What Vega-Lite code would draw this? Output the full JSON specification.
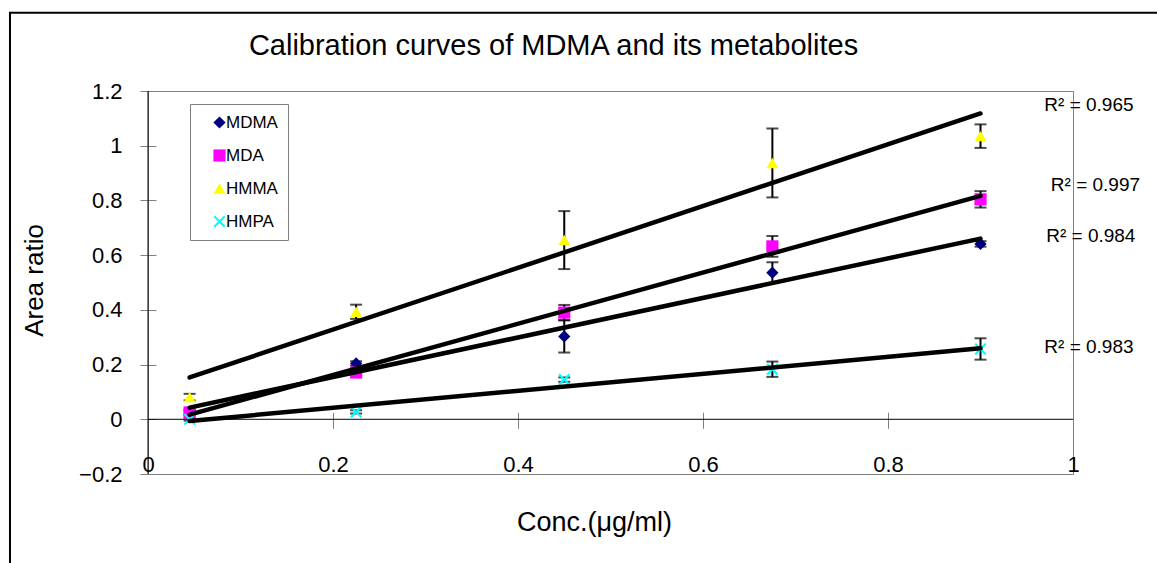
{
  "$schema": "https://vega.github.io/schema/vega-lite/v6.json",
  "width": 925,
  "height": 383,
  "autosize": {"type": "none"},
  "padding": {"left": 148, "top": 91, "right": 84, "bottom": 89},
  "background": "white",
  "title": {
    "text": "Calibration curves of MDMA and its metabolites",
    "font": "Liberation Sans",
    "fontSize": 29,
    "fontWeight": "normal",
    "color": "black",
    "frame": "group",
    "anchor": "middle",
    "dx": -57,
    "baseline": "alphabetic",
    "offset": -72
  },
  "config": {
    "view": {"stroke": "#808080", "strokeWidth": 1},
    "axis": {
      "labelFont": "Liberation Sans",
      "labelFontSize": 22,
      "labelColor": "black",
      "titleFont": "Liberation Sans",
      "titleFontWeight": "normal",
      "titleColor": "black",
      "grid": false,
      "domain": false,
      "tickColor": "#808080",
      "tickSize": 16,
      "format": "~g"
    }
  },
  "datasets": {
    "points": [
      {"series": "MDMA", "conc": 0.045, "ratio": 0.025, "err": 0.008},
      {"series": "MDMA", "conc": 0.225, "ratio": 0.204, "err": 0.008},
      {"series": "MDMA", "conc": 0.45, "ratio": 0.303, "err": 0.059},
      {"series": "MDMA", "conc": 0.675, "ratio": 0.536, "err": 0.038},
      {"series": "MDMA", "conc": 0.9, "ratio": 0.641, "err": 0.01},
      {"series": "MDA", "conc": 0.045, "ratio": 0.025, "err": 0.008},
      {"series": "MDA", "conc": 0.225, "ratio": 0.171, "err": 0.008},
      {"series": "MDA", "conc": 0.45, "ratio": 0.39, "err": 0.028},
      {"series": "MDA", "conc": 0.675, "ratio": 0.632, "err": 0.038},
      {"series": "MDA", "conc": 0.9, "ratio": 0.804, "err": 0.03},
      {"series": "HMMA", "conc": 0.045, "ratio": 0.081, "err": 0.012},
      {"series": "HMMA", "conc": 0.225, "ratio": 0.393, "err": 0.026},
      {"series": "HMMA", "conc": 0.45, "ratio": 0.655, "err": 0.106},
      {"series": "HMMA", "conc": 0.675, "ratio": 0.937, "err": 0.126},
      {"series": "HMMA", "conc": 0.9, "ratio": 1.035, "err": 0.043},
      {"series": "HMPA", "conc": 0.045, "ratio": 0.0, "err": 0.005},
      {"series": "HMPA", "conc": 0.225, "ratio": 0.027, "err": 0.006},
      {"series": "HMPA", "conc": 0.45, "ratio": 0.145, "err": 0.008},
      {"series": "HMPA", "conc": 0.675, "ratio": 0.183, "err": 0.028},
      {"series": "HMPA", "conc": 0.9, "ratio": 0.257, "err": 0.039}
    ],
    "r2": [
      {"label": "R² = 0.965", "lx": 0.969, "ly": 1.149},
      {"label": "R² = 0.997", "lx": 0.976, "ly": 0.856},
      {"label": "R² = 0.984", "lx": 0.971, "ly": 0.67},
      {"label": "R² = 0.983", "lx": 0.969, "ly": 0.265}
    ]
  },
  "layer": [
    {
      "data": {"values": [{}]},
      "mark": {"type": "rect", "filled": false, "color": "black", "strokeWidth": 2},
      "encoding": {
        "x": {"datum": -0.1492, "type": "quantitative", "title": "Conc.(μg/ml)", "scale": {"domain": [0, 1], "nice": false}},
        "x2": {"datum": 1.25},
        "y": {"datum": 1.486, "type": "quantitative", "title": "Area ratio", "scale": {"domain": [-0.2, 1.2], "nice": false}},
        "y2": {"datum": -0.75}
      }
    },
    {
      "data": {"values": [{}]},
      "mark": {"type": "rule", "color": "black", "strokeWidth": 1},
      "encoding": {"y": {"datum": 0, "type": "quantitative", "title": "Area ratio"}}
    },
    {
      "data": {"values": [{}]},
      "mark": {"type": "rule", "color": "black", "strokeWidth": 1},
      "encoding": {"x": {"datum": 0, "type": "quantitative", "title": "Conc.(μg/ml)"}}
    },
    {
      "data": {"name": "points"},
      "mark": {
        "type": "errorbar",
        "color": "black",
        "ticks": {"size": 12, "thickness": 2, "color": "black"},
        "rule": {"strokeWidth": 2, "color": "black"}
      },
      "encoding": {
        "x": {"field": "conc", "type": "quantitative", "title": "Conc.(μg/ml)"},
        "y": {"field": "ratio", "type": "quantitative", "title": "Area ratio"},
        "yError": {"field": "err"},
        "detail": {"field": "series"}
      }
    },
    {
      "data": {"name": "points"},
      "mark": {"type": "point", "filled": true, "opacity": 1},
      "encoding": {
        "x": {
          "field": "conc",
          "type": "quantitative",
          "title": "Conc.(μg/ml)",
          "axis": {
            "values": [0, 0.2, 0.4, 0.6, 0.8, 1],
            "offset": -61.7,
            "labelPadding": 26,
            "labelFlush": false,
            "titleFontSize": 27,
            "titleX": 446,
            "titleY": 117.7,
            "titleBaseline": "alphabetic",
            "titleAlign": "center"
          }
        },
        "y": {
          "field": "ratio",
          "type": "quantitative",
          "title": "Area ratio",
          "axis": {
            "values": [-0.2, 0, 0.2, 0.4, 0.6, 0.8, 1, 1.2],
            "offset": -8,
            "labelPadding": 18,
            "titleFontSize": 26,
            "titleAngle": -90,
            "titleX": -114,
            "titleY": 189,
            "titleBaseline": "alphabetic",
            "titleAlign": "center"
          }
        },
        "color": {
          "field": "series",
          "type": "nominal",
          "scale": {"domain": ["MDMA", "MDA", "HMMA", "HMPA"], "range": ["#000080", "#FF00FF", "#FFFF00", "#00FFFF"]},
          "legend": {
            "title": null, "orient": "none", "legendX": 42, "legendY": 13,
            "strokeColor": "#808080", "fillColor": "white", "padding": 10,
            "symbolOffset": 11, "labelOffset": -2, "rowPadding": 15,
            "labelFont": "Liberation Sans", "labelFontSize": 17, "labelColor": "black",
            "symbolSize": 160, "symbolStrokeWidth": 0,
            "labelExpr": "datum.label + '     '",
            "encode": {"symbols": {"update": {"size": {"value": 160}}}}
          }
        },
        "shape": {
          "field": "series",
          "type": "nominal",
          "scale": {
            "domain": ["MDMA", "MDA", "HMMA", "HMPA"],
            "range": ["diamond", "square", "triangle-up", "M-1,-0.75L-0.75,-1L1,0.75L0.75,1ZM1,-0.75L-0.75,1L-1,0.75L0.75,-1Z"]
          },
          "legend": {
            "title": null, "orient": "none", "legendX": 42, "legendY": 13,
            "strokeColor": "#808080", "fillColor": "white", "padding": 10,
            "symbolOffset": 11, "labelOffset": -2, "rowPadding": 15,
            "labelFont": "Liberation Sans", "labelFontSize": 17, "labelColor": "black",
            "symbolSize": 160, "symbolStrokeWidth": 0,
            "labelExpr": "datum.label + '     '",
            "encode": {"symbols": {"update": {"size": {"value": 160}}}}
          }
        },
        "size": {
          "field": "series",
          "type": "nominal",
          "scale": {"domain": ["MDMA", "MDA", "HMMA", "HMPA"], "range": [150, 144, 175, 144]},
          "legend": null
        }
      }
    },
    {
      "data": {"name": "points"},
      "transform": [{"regression": "ratio", "on": "conc", "groupby": ["series"]}],
      "mark": {"type": "line", "color": "black", "strokeWidth": 4.5, "strokeCap": "round"},
      "encoding": {
        "x": {"field": "conc", "type": "quantitative", "title": "Conc.(μg/ml)"},
        "y": {"field": "ratio", "type": "quantitative", "title": "Area ratio"},
        "detail": {"field": "series"}
      }
    },
    {
      "data": {"name": "r2"},
      "mark": {"type": "text", "align": "left", "baseline": "middle", "font": "Liberation Sans", "fontSize": 19, "color": "black"},
      "encoding": {
        "x": {"field": "lx", "type": "quantitative", "title": "Conc.(μg/ml)"},
        "y": {"field": "ly", "type": "quantitative", "title": "Area ratio"},
        "text": {"field": "label"}
      }
    }
  ]
}
